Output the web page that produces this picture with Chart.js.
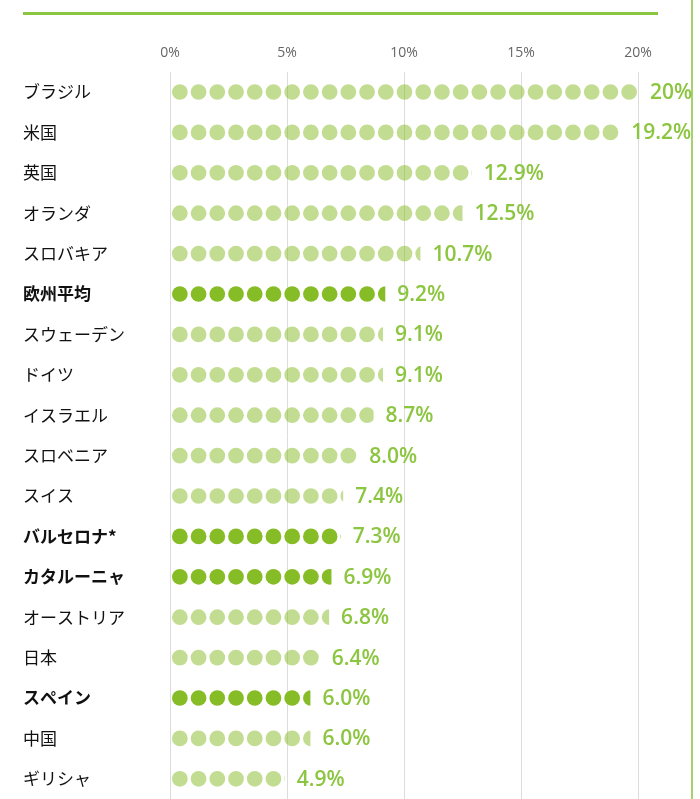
<!DOCTYPE html>
<html lang="ja">
<head>
<meta charset="utf-8">
<title>chart</title>
<script src="https://cdn.jsdelivr.net/npm/chart.js@4.4.1/dist/chart.umd.min.js"></script>
<style>
  html, body { margin: 0; padding: 0; background: #fff; }
  #wrap { width: 700px; height: 799px; }
</style>
</head>
<body>
<div id="wrap"><canvas id="dotChart"></canvas></div>
<script>
const categories = ['ブラジル', '米国', '英国', 'オランダ', 'スロバキア', '欧州平均', 'スウェーデン', 'ドイツ', 'イスラエル',
  'スロベニア', 'スイス', 'バルセロナ*', 'カタルーニャ', 'オーストリア', '日本', 'スペイン', '中国', 'ギリシャ'];
const values = [20, 19.2, 12.9, 12.5, 10.7, 9.2, 9.1, 9.1, 8.7, 8.0, 7.4, 7.3, 6.9, 6.8, 6.4, 6.0, 6.0, 4.9];
const valueLabels = ['20%', '19.2%', '12.9%', '12.5%', '10.7%', '9.2%', '9.1%', '9.1%', '8.7%',
  '8.0%', '7.4%', '7.3%', '6.9%', '6.8%', '6.4%', '6.0%', '6.0%', '4.9%'];
const highlight = [false, false, false, false, false, true, false, false, false,
  false, false, true, true, false, false, true, false, false];
const tickLabels = ['0%', '5%', '10%', '15%', '20%'];
const DOT_STEP = 0.8; // one dot = 0.8%

const GREEN = '#8cc540';
const DOT_DARK = '#86bc25';
const DOT_LIGHT = 'rgba(134, 188, 37, 0.5)';

// dots + value labels drawn inside each (invisible) bar
const dotsPlugin = {
  id: 'dots',
  afterDatasetsDraw(chart) {
    const ctx = chart.ctx;
    const x = chart.scales.x;
    const pitch = x.getPixelForValue(DOT_STEP) - x.getPixelForValue(0);
    const r = pitch * 0.42;
    chart.getDatasetMeta(0).data.forEach((bar, i) => {
      const left = bar.base, right = bar.x;
      ctx.save();
      ctx.beginPath();
      ctx.rect(left, bar.y - r - 1, right - left, 2 * r + 2);
      ctx.clip();
      ctx.fillStyle = highlight[i] ? DOT_DARK : DOT_LIGHT;
      for (let cx = left + pitch / 2; cx - r < right; cx += pitch) {
        ctx.beginPath();
        ctx.arc(cx, bar.y, r, 0, Math.PI * 2);
        ctx.fill();
      }
      ctx.restore();

      ctx.save();
      ctx.fillStyle = GREEN;
      ctx.font = '600 21px "Open Sans", sans-serif';
      ctx.textBaseline = 'middle';
      ctx.fillText(valueLabels[i], right + 12, bar.y + 1);
      ctx.restore();
    });
  }
};

// green rules at the top and right edge
const framePlugin = {
  id: 'frame',
  beforeDraw(chart) {
    const ctx = chart.ctx;
    ctx.save();
    ctx.strokeStyle = GREEN;
    ctx.lineWidth = 3;
    ctx.beginPath();
    ctx.moveTo(23, 13.5);
    ctx.lineTo(658, 13.5);
    ctx.stroke();
    ctx.strokeStyle = '#a3d36a';
    ctx.lineWidth = 2;
    ctx.beginPath();
    ctx.moveTo(692, 0);
    ctx.lineTo(692, 799);
    ctx.stroke();
    ctx.restore();
  }
};

new Chart(document.getElementById('dotChart'), {
  type: 'bar',
  data: {
    labels: categories,
    datasets: [{
      data: values,
      backgroundColor: 'rgba(0,0,0,0)',
      barThickness: 16
    }]
  },
  options: {
    indexAxis: 'y',
    responsive: true,
    maintainAspectRatio: false,
    animation: false,
    layout: { padding: { left: 23, top: 35, right: 62, bottom: 0 } },
    plugins: {
      legend: { display: false },
      tooltip: { enabled: false }
    },
    scales: {
      x: {
        position: 'top',
        min: 0,
        max: 20,
        ticks: {
          stepSize: 5,
          padding: 10,
          color: '#666',
          font: { family: '"Open Sans", sans-serif', size: 14 },
          callback: (v, i) => tickLabels[i]
        },
        grid: { color: '#dcdcdc', drawTicks: false },
        border: { display: false }
      },
      y: {
        ticks: {
          crossAlign: 'far',
          color: '#111',
          font: ctx => ({
            family: '"Noto Sans CJK JP", sans-serif',
            size: 17,
            weight: highlight[ctx.index] ? 'bold' : 'normal'
          })
        },
        grid: { display: false },
        border: { display: false },
        afterFit: scale => {
          scale.width = 147;
          scale.paddingTop = 0;
          scale.paddingBottom = 0;
        }
      }
    }
  },
  plugins: [framePlugin, dotsPlugin]
});
</script>
</body>
</html>
